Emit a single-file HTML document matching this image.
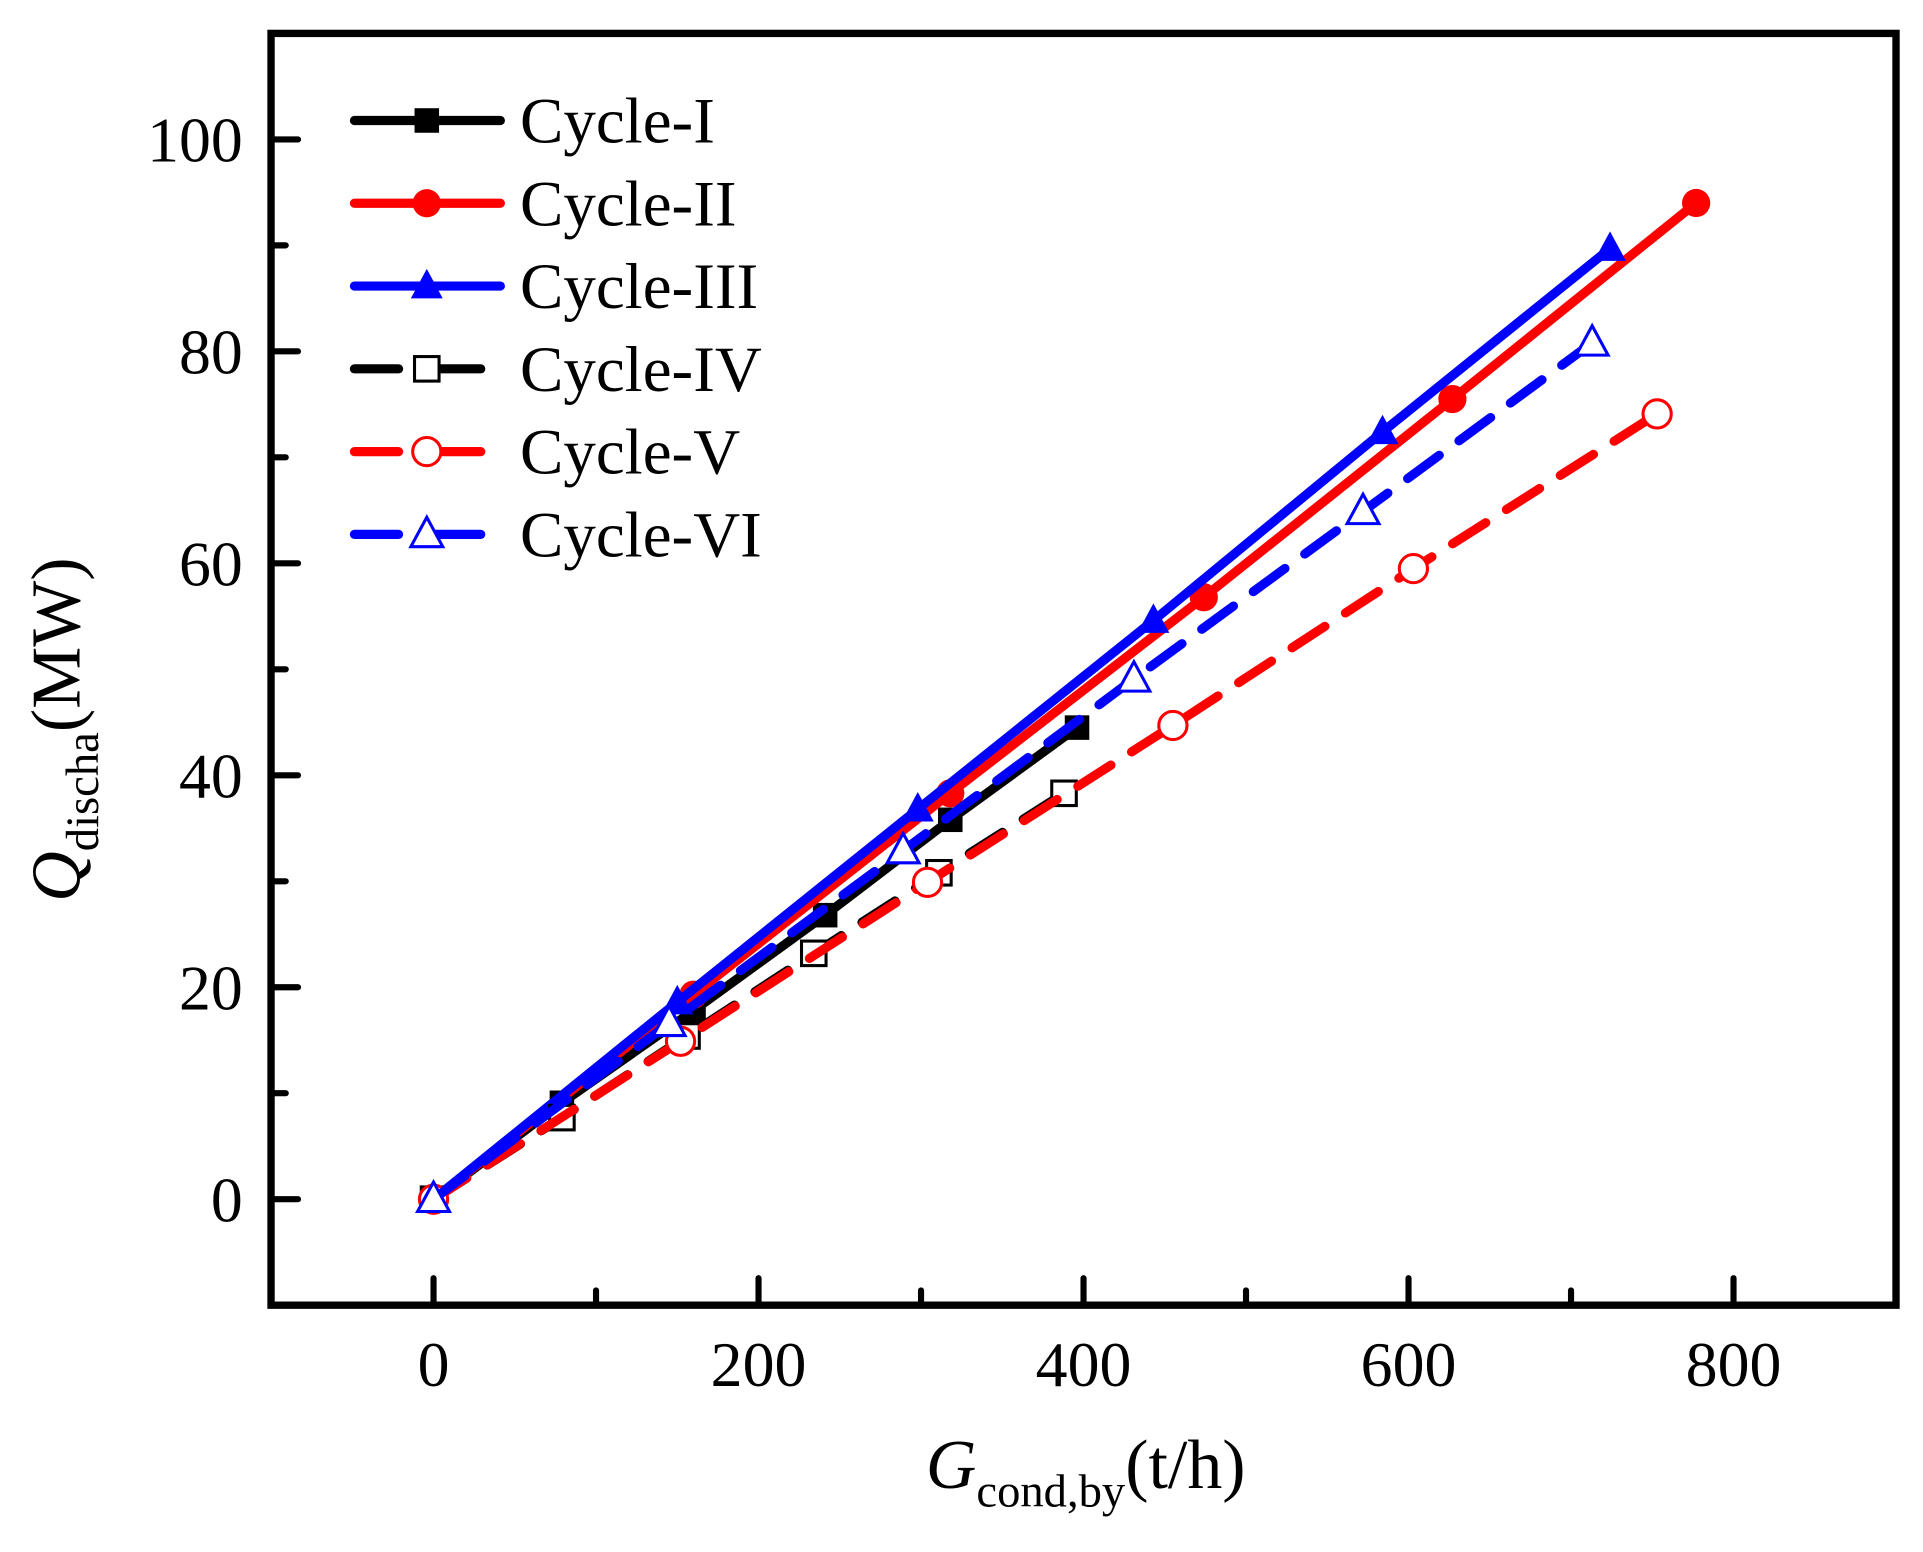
<!DOCTYPE html>
<html><head><meta charset="utf-8"><style>
html,body{margin:0;padding:0;background:#fff;}
svg{display:block;font-family:"Liberation Serif",serif;}
</style></head><body>
<svg id="chart" width="1923" height="1552" viewBox="0 0 1568 1265" xmlns="http://www.w3.org/2000/svg">
<g id="plot"></g>
<g id="axes"></g>
<g id="legend"></g>
<text x="755" y="1213" font-size="57"><tspan font-style="italic">G</tspan><tspan font-size="38" dy="15">cond,by</tspan><tspan dy="-15">(t/h)</tspan></text>
<text transform="translate(65,735) rotate(-90)" font-size="57"><tspan font-style="italic">Q</tspan><tspan font-size="38" dy="15">discha</tspan><tspan dy="-15">(MW)</tspan></text>
</svg>
<script>
const xTicks=[0,200,400,600,800];
const yTicks=[0,20,40,60,80,100];
const names=["Cycle-I","Cycle-II","Cycle-III","Cycle-IV","Cycle-V","Cycle-VI"];
const x1=[0,79,160,241,318,396], y1=[0,9.1,17.8,26.8,35.8,44.5];
const x2=[0,160,318,474,627,777], y2=[0,19.3,38.3,56.8,75.5,94];
const x3=[0,150,298,443,584,724], y3=[0,18.6,36.8,54.6,72.4,89.7];
const x4=[0,79,156,234,311,388], y4=[0,7.7,15.4,23.2,30.8,38.3];
const x5=[0,152,304,455,603,753], y5=[0,14.9,29.9,44.7,59.5,74.1];
const x6=[0,145,289,431,572,713], y6=[0,16.6,32.9,49.1,64.9,80.8];

const NS="http://www.w3.org/2000/svg";
const L=221,R=1546,T=27,B=1064,xmin=-100,xmax=900,ymin=-10,ymax=110;
const sx=v=>L+(v-xmin)/(xmax-xmin)*(R-L);
const sy=v=>B-(v-ymin)/(ymax-ymin)*(B-T);
function mk(tag,attrs,parent){const e=document.createElementNS(NS,tag);for(const k in attrs)e.setAttribute(k,attrs[k]);parent.appendChild(e);return e;}
const plot=document.getElementById('plot'),axes=document.getElementById('axes'),leg=document.getElementById('legend');
const series=[
 {x:x1,y:y1,c:"#000",dash:null,m:"square",fill:true},
 {x:x2,y:y2,c:"#f00",dash:null,m:"circle",fill:true},
 {x:x3,y:y3,c:"#00f",dash:null,m:"tri",fill:true},
 {x:x4,y:y4,c:"#000",dash:"32 20",m:"square",fill:false},
 {x:x5,y:y5,c:"#f00",dash:"32 20",m:"circle",fill:false},
 {x:x6,y:y6,c:"#00f",dash:"32 20",m:"tri",fill:false}];
function marker(s,cx,cy,parent){
 const f=s.fill?s.c:"#fff";const sw=s.fill?0:2.5;let e;
 if(s.m==="square")e=mk('rect',{x:cx-10,y:cy-10,width:20,height:20,fill:f,stroke:s.c,'stroke-width':sw},parent);
 else if(s.m==="circle")e=mk('circle',{cx:cx,cy:cy,r:11.5,fill:f,stroke:s.c,'stroke-width':sw},parent);
 else e=mk('polygon',{points:`${cx},${cy-14} ${cx-13},${cy+10} ${cx+13},${cy+10}`,fill:f,stroke:s.c,'stroke-width':sw},parent);
 return e;}
series.forEach((s,i)=>{
 const g=mk('g',{},plot);
 
 
 const pts=s.x.map((v,j)=>sx(v)+","+sy(s.y[j])).join(" ");
 const a={points:pts,fill:"none",stroke:s.c,'stroke-width':7.5,'stroke-linecap':'round','stroke-linejoin':'round'};
 if(s.dash)a['stroke-dasharray']=s.dash;
 const pl=mk('polyline',a,g);
 
 
 s.x.forEach((v,j)=>{const m=marker(s,sx(v),sy(s.y[j]),g);
  
  });
 const ly=98+i*67.5;
 const lg=mk('g',{},leg);
 
 
 if(s.dash){
  mk('line',{x1:289,y1:ly,x2:325,y2:ly,stroke:s.c,'stroke-width':7.5,'stroke-linecap':'round'},lg);
  mk('line',{x1:350,y1:ly,x2:392,y2:ly,stroke:s.c,'stroke-width':7.5,'stroke-linecap':'round'},lg);
 } else mk('line',{x1:289,y1:ly,x2:408,y2:ly,stroke:s.c,'stroke-width':7.5,'stroke-linecap':'round'},lg);
 marker(s,348,ly,lg);
 const t=mk('text',{x:424,y:ly+18,'font-size':53},lg);t.textContent=names[i];
});
const fr=mk('rect',{x:L,y:T,width:R-L,height:B-T,fill:"none",stroke:"#000",'stroke-width':6},axes);


for(let v=0;v<=800;v+=100){const maj=v%200===0;
 const t=mk('line',{x1:sx(v),y1:B,x2:sx(v),y2:B-(maj?22:12),stroke:"#000",'stroke-width':5,'stroke-linecap':'round'},axes);
 
 }
for(let v=0;v<=100;v+=10){const maj=v%20===0;
 const t=mk('line',{x1:L,y1:sy(v),x2:L+(maj?22:12),y2:sy(v),stroke:"#000",'stroke-width':5,'stroke-linecap':'round'},axes);
 
 }
xTicks.forEach(v=>{const t=mk('text',{x:sx(v),y:1130,'font-size':52,'text-anchor':'middle'},axes);t.textContent=v;
 
 });
yTicks.forEach(v=>{const t=mk('text',{x:198,y:sy(v)+18,'font-size':52,'text-anchor':'end'},axes);t.textContent=v;
 
 });
</script>
</body></html>
